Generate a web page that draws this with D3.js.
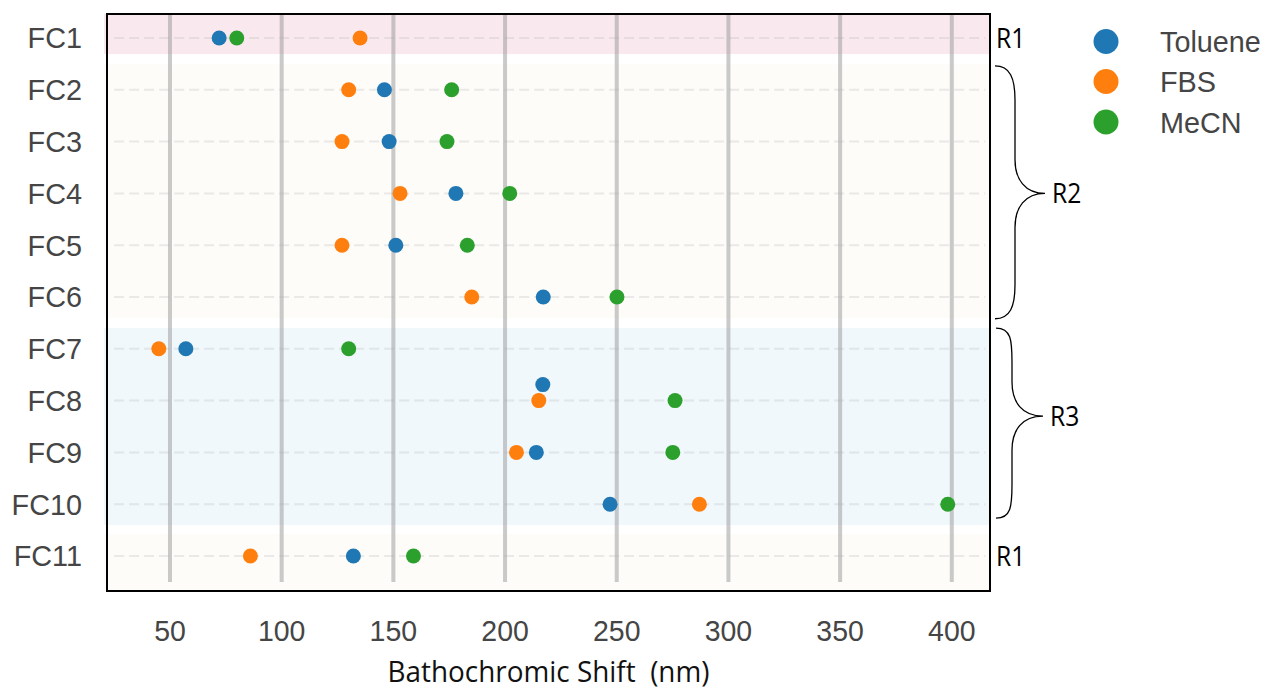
<!DOCTYPE html>
<html>
<head>
<meta charset="utf-8">
<script src="https://cdn.jsdelivr.net/npm/d3@7"></script>
<style>
  html, body { margin: 0; padding: 0; background: #fff; }
  svg { display: block; }
</style>
</head>
<body>
<svg id="chart" width="1265" height="689"></svg>
<script>
// Bathochromic shift (nm) of each fluorophore in three media
const categories = ["FC1", "FC2", "FC3", "FC4", "FC5", "FC6", "FC7", "FC8", "FC9", "FC10", "FC11"];
const toluene = [72.0, 146.0, 148.1, 178.0, 151.1, 217.1, 57.1, 216.9, 214.0, 247.0, 132.1];
const fbs     = [135.1, 130.0, 127.0, 153.0, 127.0, 185.1, 45.0, 215.1, 205.1, 287.0, 86.0];
const mecn    = [79.9, 176.1, 174.0, 202.1, 183.1, 250.1, 130.0, 276.1, 275.1, 398.2, 159.0];
const seriesNames = ["Toluene", "FBS", "MeCN"];
const xTicks = [50, 100, 150, 200, 250, 300, 350, 400];
const xTitle = "Bathochromic Shift  (nm)";

// Regions: label and band shading, top to bottom
const regionLabels = ["R1", "R2", "R3", "R1"];
const bandColors = ["#f9e9ee", "#fdfcf9", "#f0f8fc", "#fdfcf9"];

const colors = ["#1f77b4", "#ff7f0e", "#2ca02c"];

const svg = d3.select("#chart");
const plot = { left: 107, right: 990, top: 14, bottom: 591 };

const x = d3.scaleLinear().domain([21.8, 417.1]).range([plot.left, plot.right]);
const row = d3.scaleLinear().domain([-0.463, 10.676]).range([plot.top, plot.bottom]);
const idx = c => categories.indexOf(c);
const y = c => row(idx(c));

svg.append("defs").append("clipPath").attr("id", "plotClip")
  .append("rect")
  .attr("x", plot.left - 3).attr("y", plot.top)
  .attr("width", plot.right - plot.left + 3).attr("height", plot.bottom - plot.top);

const g = svg.append("g").attr("clip-path", "url(#plotClip)");

// Region bands (edges in row units)
const bandEdges = [[-1, 0.31], [0.51, 5.41], [5.6, 9.4], [9.58, 11.5]];
bandColors.forEach((fill, i) => {
  const y0 = row(bandEdges[i][0]), y1 = row(bandEdges[i][1]);
  g.append("rect")
    .attr("x", plot.left - 3).attr("y", y0)
    .attr("width", plot.right - plot.left + 3).attr("height", y1 - y0)
    .attr("fill", fill);
});

// Vertical grid at tick values
g.append("g").selectAll("line").data(xTicks).join("line")
  .attr("x1", d => x(d)).attr("x2", d => x(d))
  .attr("y1", plot.top).attr("y2", row(10.5))
  .attr("stroke", "rgba(150,150,150,0.5)")
  .attr("stroke-width", 4);

// Dashed row guides
g.append("g").selectAll("line").data(categories).join("line")
  .attr("x1", x(25)).attr("x2", x(415))
  .attr("y1", d => y(d)).attr("y2", d => y(d))
  .attr("stroke", "rgba(170,170,170,0.22)")
  .attr("stroke-width", 2)
  .attr("stroke-dasharray", "10,5");

// Points; a marker that collides with one already placed in its row is lifted
const r = 7.5;
const seriesValues = [toluene, fbs, mecn];
const points = [];
categories.forEach((c, i) => {
  const placed = [];
  for (let s = seriesValues.length - 1; s >= 0; s--) {
    const px = x(seriesValues[s][i]);
    let py = y(c);
    if (placed.some(p => Math.abs(p.px - px) < 2 * r && p.py === py)) py -= 16;
    const p = { s, c, v: seriesValues[s][i], px, py };
    placed.push(p);
    points.push(p);
  }
});
points.sort((a, b) => a.s - b.s);
g.append("g").selectAll("circle").data(points).join("circle")
  .attr("cx", d => d.px).attr("cy", d => d.py).attr("r", r)
  .attr("fill", d => colors[d.s]);

// Frame
svg.append("rect")
  .attr("x", plot.left).attr("y", plot.top)
  .attr("width", plot.right - plot.left).attr("height", plot.bottom - plot.top)
  .attr("fill", "none").attr("stroke", "#000").attr("stroke-width", 2);

// Helper: horizontally condensed text
function label(parent, tx, ty, text, opts) {
  const grp = parent.append("g").attr("transform", `translate(${tx},${ty}) scale(${opts.sx || 1},1)`);
  return grp.append("text")
    .attr("x", 0).attr("y", 0)
    .attr("text-anchor", opts.anchor || "start")
    .attr("font-family", opts.family || "'Liberation Sans', Arial, sans-serif")
    .attr("font-size", opts.size)
    .attr("fill", opts.fill || "#444")
    .style("white-space", "pre")
    .text(text);
}

// Y labels
categories.forEach(c => {
  label(svg, 82, y(c) + 10.5, c, { anchor: "end", size: 30, sx: 0.96, fill: "#454545" });
});

// X tick labels
xTicks.forEach(t => {
  label(svg, x(t), 641, String(t), { anchor: "middle", size: 30, sx: 0.95, fill: "#454545" });
});

// X title
label(svg, 548.5, 682, xTitle, { anchor: "middle", size: 30, sx: 0.93, fill: "#111",
  family: "'Open Sans', 'Noto Sans', sans-serif" });

// Curly brace path from (x0,yTop) to (x0,yBot) with tip at (xTip,yTip)
function brace(x0, xMid, xTip, yTop, yTip, yBot) {
  const k = 34;
  return `M${x0},${yTop} C${x0 + 15},${yTop} ${xMid},${yTop + 12} ${xMid},${yTop + k}` +
    ` L${xMid},${yTip - k}` +
    ` C${xMid},${yTip - 14} ${xMid + 10},${yTip} ${xTip},${yTip}` +
    ` C${xMid + 10},${yTip} ${xMid},${yTip + 14} ${xMid},${yTip + k}` +
    ` L${xMid},${yBot - k}` +
    ` C${xMid},${yBot - 12} ${x0 + 15},${yBot} ${x0},${yBot}`;
}

const rLabelOpts = { size: 28, sx: 0.88, fill: "#000", family: "'Open Sans', 'Noto Sans', sans-serif" };

// R1 labels for single rows
label(svg, 996, y("FC1") + 10, regionLabels[0], rLabelOpts);
label(svg, 996, y("FC11") + 10, regionLabels[3], rLabelOpts);

// R2 brace
svg.append("path")
  .attr("d", brace(995, 1015, 1045, row(0.54), row(3.0), row(5.42)))
  .attr("fill", "none").attr("stroke", "#000").attr("stroke-width", 1.3);
label(svg, 1052, row(3.0) + 10, regionLabels[1], rLabelOpts);

// R3 brace
svg.append("path")
  .attr("d", brace(996, 1012, 1043, row(5.6), row(7.3), row(9.27)))
  .attr("fill", "none").attr("stroke", "#000").attr("stroke-width", 1.3);
label(svg, 1050, row(7.3) + 10, regionLabels[2], rLabelOpts);

// Legend
const legendY = [41.5, 81.5, 122];
seriesNames.forEach((name, i) => {
  svg.append("circle").attr("cx", 1106).attr("cy", legendY[i]).attr("r", 12.5).attr("fill", colors[i]);
  label(svg, 1160, legendY[i] + 10.5, name, { size: 30, sx: 0.96, fill: "#454545" });
});
</script>
</body>
</html>
